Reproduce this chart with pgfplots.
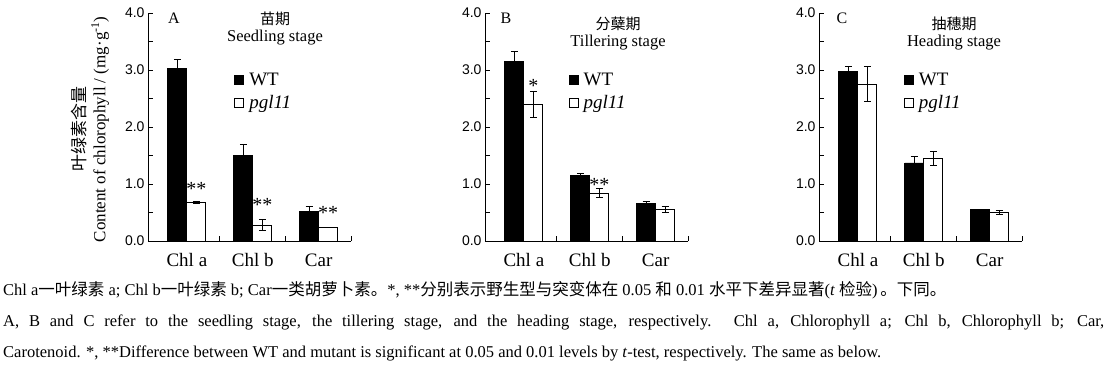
\documentclass[border=0pt]{standalone}
\usepackage{fontspec}
\setmainfont{Liberation Serif}
\newfontfamily\cjk{Noto Sans CJK SC}
\newfontfamily\arial{Liberation Sans}
\usepackage{pgfplots}
\pgfplotsset{compat=1.18}
\tikzset{sigstar/.style={anchor=base, font=\fontsize{20}{20}\selectfont, inner sep=0pt}}
\pgfplotsset{
  chl/.style={
    scale only axis, width=203pt, height=228pt,
    xmin=-0.59, xmax=2.49, ymin=0, ymax=4,
    enlargelimits=false,
    axis lines=left, axis line style={-, line width=1pt},
    ybar=0pt, bar width=19pt,
    xtick={0.5,1.5,2.49}, xticklabels={},
    extra x ticks={0,1,2}, extra x tick labels={Chl a,Chl b,Car},
    extra x tick style={major tick length=0pt},
    xticklabel style={font=\fontsize{19}{19}\selectfont, anchor=base, yshift=-25pt},
    ytick={0,1,2,3,4}, minor ytick={0.5,1.5,2.5,3.5},
    tick align=inside, major tick length=5pt, minor tick length=5pt,
    tick style={line width=1pt, black},
    yticklabel style={font=\arial\fontsize{14}{14}\selectfont},
    /pgf/number format/.cd, fixed, fixed zerofill, precision=1, assume math mode=true,
    /pgfplots/.cd,
    legend style={draw=none, fill=none, font=\fontsize{19}{19}\selectfont, anchor=north west, inner sep=0pt, row sep=4pt,
      column sep=3pt, cells={anchor=west}},
    legend image code/.code={\draw[#1, line width=0.8pt] (0pt,-4.5pt) rectangle (9pt,4.5pt);},
  },
  wt/.style={fill=black, draw=black, line width=0.8pt,
    error bars/.cd, y dir=both, y explicit,
    error bar style={line width=1pt, black},
    error mark options={rotate=90, mark size=3.5pt, line width=1pt, black}},
  mut/.style={fill=white, draw=black, line width=0.8pt,
    error bars/.cd, y dir=both, y explicit,
    error bar style={line width=1pt, black},
    error mark options={rotate=90, mark size=3.5pt, line width=1pt, black}},
}
\begin{document}
\begin{tikzpicture}[x=1pt,y=1pt]
\useasboundingbox (0,0) rectangle (1111,-365);
% Panel A
\begin{axis}[chl, at={(148pt,-241pt)}, anchor=south west,
  legend style={at={(0.425,0.745)}},
  ylabel={{\cjk 叶绿素含量}\\Content of chlorophyll / (mg·g\textsuperscript{-1})},
  ylabel style={at={(axis description cs:-0.286,0.49)}, anchor=center, align=center, font=\fontsize{17}{20}\selectfont}]
\addplot[wt] coordinates {(0,3.02) +- (0,0.17) (1,1.50) +- (0,0.20) (2,0.52) +- (0,0.08)};
\addplot[mut] coordinates {(0,0.67) +- (0,0.02) (1,0.28) +- (0,0.10) (2,0.23) +- (0,0.0)};
\addlegendentry{WT}
\addlegendentry{\textit{pgl11}}
\node[sigstar] at (axis cs:0,0.80) [xshift=9.5pt] {**};
\node[sigstar] at (axis cs:1,0.515) [xshift=9.5pt] {**};
\node[sigstar] at (axis cs:2,0.37) [xshift=9.5pt] {**};
\end{axis}
% Panel B
\begin{axis}[chl, at={(485pt,-241pt)}, anchor=south west,
  legend style={at={(0.412,0.745)}}]
\addplot[wt] coordinates {(0,3.15) +- (0,0.18) (1,1.15) +- (0,0.04) (2,0.66) +- (0,0.03)};
\addplot[mut] coordinates {(0,2.40) +- (0,0.23) (1,0.84) +- (0,0.08) (2,0.55) +- (0,0.05)};
\addlegendentry{WT}
\addlegendentry{\textit{pgl11}}
\node[sigstar] at (axis cs:0,2.61) [xshift=9.5pt] {*};
\node[sigstar] at (axis cs:1,0.867) [xshift=9.5pt] {**};
\end{axis}
% Panel C
\begin{axis}[chl, at={(819pt,-241pt)}, anchor=south west,
  legend style={at={(0.418,0.745)}}]
\addplot[wt] coordinates {(0,2.97) +- (0,0.09) (1,1.37) +- (0,0.12) (2,0.56) +- (0,0.0)};
\addplot[mut] coordinates {(0,2.75) +- (0,0.31) (1,1.45) +- (0,0.12) (2,0.50) +- (0,0.04)};
\addlegendentry{WT}
\addlegendentry{\textit{pgl11}}
\end{axis}
% titles
\node[font=\fontsize{16}{16}\selectfont] at (174,-18) {A};
\node[font=\cjk\fontsize{15}{15}\selectfont] at (275,-19) {苗期};
\node[anchor=base, font=\fontsize{16.5}{16.5}\selectfont] at (275,-41) {Seedling stage};
\node[font=\fontsize{16}{16}\selectfont] at (506,-18) {B};
\node[font=\cjk\fontsize{15}{15}\selectfont] at (618,-23.5) {分蘖期};
\node[anchor=base, font=\fontsize{16.5}{16.5}\selectfont] at (618,-46.5) {Tillering stage};
\node[font=\fontsize{16}{16}\selectfont] at (842,-18) {C};
\node[font=\cjk\fontsize{15}{15}\selectfont] at (954,-23.5) {抽穗期};
\node[anchor=base, font=\fontsize{16.5}{16.5}\selectfont] at (954,-46.5) {Heading stage};
% caption
\node[anchor=base west, inner sep=0pt, font=\fontsize{16.5}{16.5}\selectfont] at (3,-295.5)
  {Chl a{\cjk 一叶绿素} a; Chl b{\cjk 一叶绿素} b; Car{\cjk 一类胡萝卜素。}*, **{\cjk 分别表示野生型与突变体在} 0.05 {\cjk 和} 0.01 {\cjk 水平下差异显著}(\textit{t} {\cjk 检验})\,{\cjk 。下同。}};
\node[anchor=base west, inner sep=0pt, font=\fontsize{16.5}{16.5}\selectfont] at (3,-326.5)
  {\makebox[1101pt][s]{A, B and C refer to the seedling stage, the tillering stage, and the heading stage, respectively. Chl a, Chlorophyll a; Chl b, Chlorophyll b; Car,}};
\node[anchor=base west, inner sep=0pt, font=\fontsize{16.5}{16.5}\selectfont] at (3,-357)
  {Carotenoid. *, **Difference between WT and mutant is significant at 0.05 and 0.01 levels by \textit{t}-test, respectively. The same as below.};
\end{tikzpicture}
\end{document}
